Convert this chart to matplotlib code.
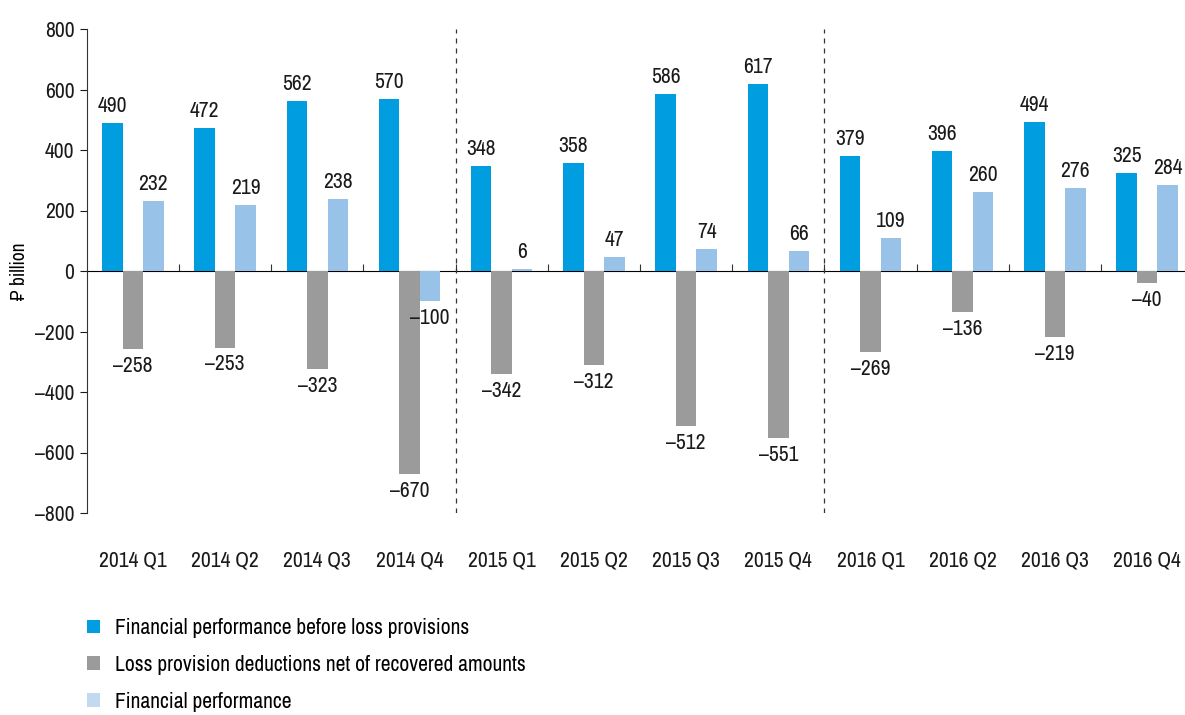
import matplotlib
matplotlib.use("Agg")
import matplotlib.pyplot as plt
import numpy as np
from matplotlib.patches import Patch
from matplotlib import font_manager

# prefer a narrow face when one is available
narrow = [f.name for f in font_manager.fontManager.ttflist
          if 'Narrow' in f.name or 'Condensed' in f.name]
plt.rcParams['font.family'] = (narrow[:1] if narrow else []) + ['DejaVu Sans']
plt.rcParams['font.stretch'] = 'condensed'

quarters = ['2014 Q1', '2014 Q2', '2014 Q3', '2014 Q4',
            '2015 Q1', '2015 Q2', '2015 Q3', '2015 Q4',
            '2016 Q1', '2016 Q2', '2016 Q3', '2016 Q4']
before_provisions = [490, 472, 562, 570, 348, 358, 586, 617, 379, 396, 494, 325]
provisions = [-258, -253, -323, -670, -342, -312, -512, -551, -269, -136, -219, -40]
performance = [232, 219, 238, -100, 6, 47, 74, 66, 109, 260, 276, 284]

names = ['Financial performance before loss provisions',
         'Loss provision deductions net of recovered amounts',
         'Financial performance']
bar_colors = ['#009ee0', '#9b9b9b', '#99c2e8']
legend_colors = ['#009ee0', '#9b9b9b', '#c3d9ef']

W, H = 1185, 715
fig = plt.figure(figsize=(W / 100, H / 100), dpi=100)
# axes run slightly past the right edge, so the last quarter is cut off
left, right, top, bottom = 86.8, 86.8 + 12 * 92.2, 29, 513
ax = fig.add_axes([left / W, 1 - bottom / H, (right - left) / W, (bottom - top) / H])

x = np.arange(len(quarters))
bw = 0.222
fs = 15.5
for k, (vals, col) in enumerate(zip([before_provisions, provisions, performance], bar_colors)):
    xs = x + (k - 1) * bw
    ax.bar(xs, vals, width=bw, color=col, zorder=2)
    for xi, v in zip(xs, vals):
        txt = f'{v}' if v >= 0 else f'\u2013{abs(v)}'
        if v >= 0:
            ax.annotate(txt, (xi, v), xytext=(0, 5), textcoords='offset points',
                        ha='center', va='bottom', fontsize=fs, color='#1a1a1a')
        else:
            ax.annotate(txt, (xi, v), xytext=(0, -5), textcoords='offset points',
                        ha='center', va='top', fontsize=fs, color='#1a1a1a')

ax.set_xlim(-0.5, len(quarters) - 0.5)
ax.set_ylim(-800, 800)
yt = np.arange(-800, 801, 200)
ax.set_yticks(yt)
ax.set_yticklabels([f'{t}' if t >= 0 else f'\u2013{abs(t)}' for t in yt])
ax.tick_params(axis='y', length=5, width=0.8, labelsize=fs, colors='#1a1a1a', pad=4)
ax.set_ylabel('\u20bd billion', fontsize=14, labelpad=4)

ax.set_xticks(x)
ax.set_xticklabels(quarters)
ax.tick_params(axis='x', length=0, labelsize=fs, pad=27, colors='#1a1a1a')

for s in ['top', 'right', 'bottom']:
    ax.spines[s].set_visible(False)
ax.spines['left'].set_color('#333333')
ax.spines['left'].set_linewidth(0.8)

# zero line with small ticks between quarters
zero = ax.secondary_xaxis(0.5)
zero.set_xticks(x[:-1] + 0.5)
zero.set_xticklabels([])
zero.tick_params(axis='x', direction='out', length=5, width=0.8, color='#333333')
zero.spines['bottom'].set_color('#555555')
zero.spines['bottom'].set_linewidth(1.0)

# year separators
for b in [3.5, 7.5]:
    ax.axvline(b, color='#333333', linestyle=(0, (4, 4)), linewidth=0.9, zorder=1)

handles = [Patch(facecolor=c, edgecolor='none') for c in legend_colors]
fig.legend(handles, names, loc='upper left', bbox_to_anchor=(87 / W, 1 - 618 / H),
           frameon=False, fontsize=fs, handlelength=0.6, handleheight=0.6,
           handletextpad=0.7, labelspacing=0.78, borderaxespad=0, borderpad=0)

fig.savefig('out.png', dpi=100)
